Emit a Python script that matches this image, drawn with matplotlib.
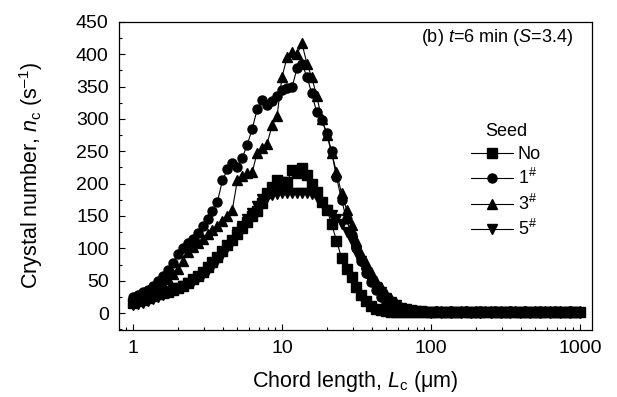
import numpy as np
import matplotlib.pyplot as plt
from matplotlib.ticker import MultipleLocator, LogLocator, NullFormatter

plt.rcParams['font.family'] = ['Liberation Sans', 'DejaVu Sans']
plt.rcParams['mathtext.fontset'] = 'custom'
plt.rcParams['mathtext.rm'] = 'Liberation Sans'
plt.rcParams['mathtext.it'] = 'Liberation Sans:italic'

# chord length channels (um)
chord = [1.00, 1.08, 1.17, 1.26, 1.36, 1.47, 1.58, 1.71, 1.85, 2.00,
         2.15, 2.32, 2.51, 2.71, 2.93, 3.16, 3.41, 3.68, 3.98, 4.30,
         4.64, 5.01, 5.41, 5.84, 6.31, 6.81, 7.36, 7.94, 8.58, 9.26,
         10.0, 10.8, 11.7, 12.6, 13.6, 14.7, 15.8, 17.1, 18.5, 20.0,
         21.5, 23.2, 25.1, 27.1, 29.3, 31.6, 34.1, 36.8, 39.8, 43.0,
         46.4, 50.1, 54.1, 58.4, 63.1, 68.1, 73.6, 79.4, 85.8, 92.6,
         100, 108, 117, 126, 136, 147, 158, 171, 185, 200,
         215, 232, 251, 271, 293, 316, 341, 368, 398, 430,
         464, 501, 541, 584, 631, 681, 736, 794, 858, 926, 1000]

# crystal number counts (1/s)
seed_no = [15, 18, 20, 23, 26, 29, 31, 33, 35, 38,
           42, 46, 52, 58, 64, 71, 79, 87, 96, 105,
           113, 122, 131, 140, 150, 158, 170, 185, 195, 205,
           202, 203, 221, 216, 224, 214, 200, 187, 172, 160,
           138, 112, 85, 68, 55, 40, 28, 19, 11, 7,
           5, 3, 2, 2, 2, 1, 2, 1, 2, 1,
           2, 1, 2, 1, 1, 2, 1, 2, 1, 1,
           2, 1, 2, 1, 1, 2, 1, 1, 2, 1,
           1, 2, 1, 1, 2, 1, 1, 2, 1, 1, 1]
seed_1 = [25, 28, 32, 36, 42, 50, 58, 66, 78, 92,
          100, 108, 115, 124, 135, 145, 158, 172, 205, 222,
          232, 226, 240, 260, 285, 315, 330, 322, 328, 336,
          345, 348, 350, 378, 385, 365, 340, 310, 298, 278,
          250, 210, 175, 145, 120, 100, 80, 62, 48, 35,
          25, 17, 11, 7, 5, 4, 3, 3, 2, 2,
          2, 3, 2, 2, 3, 2, 2, 3, 2, 2,
          3, 2, 2, 3, 2, 2, 3, 2, 2, 3,
          2, 2, 3, 2, 2, 3, 2, 2, 3, 2, 2]
seed_3 = [20, 22, 26, 30, 34, 40, 45, 52, 60, 68,
          80, 95, 102, 108, 115, 122, 128, 135, 142, 150,
          160, 205, 212, 216, 218, 248, 255, 262, 290, 305,
          365, 395, 403, 400, 417, 385, 365, 335, 300, 275,
          248, 218, 185, 160, 136, 112, 92, 77, 63, 50,
          40, 30, 22, 15, 10, 7, 5, 4, 3, 3,
          2, 3, 3, 2, 3, 2, 3, 3, 2, 3,
          2, 3, 3, 2, 3, 2, 3, 3, 2, 3,
          2, 3, 2, 3, 3, 2, 3, 2, 3, 2, 3]
seed_5 = [12, 14, 16, 19, 22, 25, 28, 31, 34, 38,
          42, 46, 50, 55, 60, 66, 73, 82, 92, 102,
          112, 125, 135, 145, 155, 165, 176, 180, 182, 184,
          186, 185, 186, 185, 186, 185, 184, 180, 170, 160,
          152, 145, 138, 125, 112, 95, 80, 62, 50, 40,
          32, 24, 17, 12, 8, 6, 4, 3, 3, 2,
          0, 1, 0, 1, 0, 1, 0, 1, 0, 1,
          0, 1, 0, 1, 0, 1, 0, 1, 0, 1,
          0, 1, 0, 1, 0, 1, 0, 1, 0, 1, 0]

series = [(seed_no, 's', 'No'),
          (seed_1, 'o', '1$^{\\#}$'),
          (seed_3, '^', '3$^{\\#}$'),
          (seed_5, 'v', '5$^{\\#}$')]

fig = plt.figure(figsize=(6.17, 3.97), dpi=100)
ax = fig.add_axes([0.193, 0.169, 0.766, 0.776])

for vals, mk, lab in series:
    ax.plot(chord, vals, color='black', lw=0.8, marker=mk, ms=6.5,
            mfc='black', mec='black', label=lab)

ax.set_xscale('log')
ax.set_xlim(0.805, 1200)
ax.set_ylim(-26, 450)
ax.set_xticks([1, 10, 100, 1000])
ax.set_xticklabels(['1', '10', '100', '1000'])
ax.xaxis.set_minor_locator(LogLocator(base=10, subs=np.arange(2, 10)))
ax.xaxis.set_minor_formatter(NullFormatter())
ax.yaxis.set_major_locator(MultipleLocator(50))
ax.yaxis.set_minor_locator(MultipleLocator(25))
ax.tick_params(which='both', direction='in', top=False, right=False,
               labelsize=14)
ax.tick_params(axis='x', which='major', pad=7)
ax.tick_params(axis='y', which='major', pad=7.5)
ax.tick_params(which='major', length=4.5, width=0.8)
ax.tick_params(which='minor', length=2.5, width=0.8)
for sp in ax.spines.values():
    sp.set_linewidth(0.9)

ax.set_xlabel('Chord length, $L_\\mathrm{c}$ (\u03bcm)', fontsize=15.5, labelpad=9)
ax.set_ylabel('Crystal number, $n_\\mathrm{c}$ (s$^{\\mathrm{\u2013}1}$)',
              fontsize=15.5, labelpad=22)

ax.text(0.96, 0.95, '(b) $t$=6 min ($S$=3.4)', transform=ax.transAxes,
        ha='right', va='center', fontsize=13)

leg = ax.legend(loc='upper left', bbox_to_anchor=(0.745, 0.67), frameon=False,
                title='Seed', fontsize=13, title_fontsize=13,
                handlelength=2.3, handletextpad=0.28, labelspacing=0.3,
                borderpad=0, borderaxespad=0, numpoints=1)

fig.savefig('out.png', dpi=100)
